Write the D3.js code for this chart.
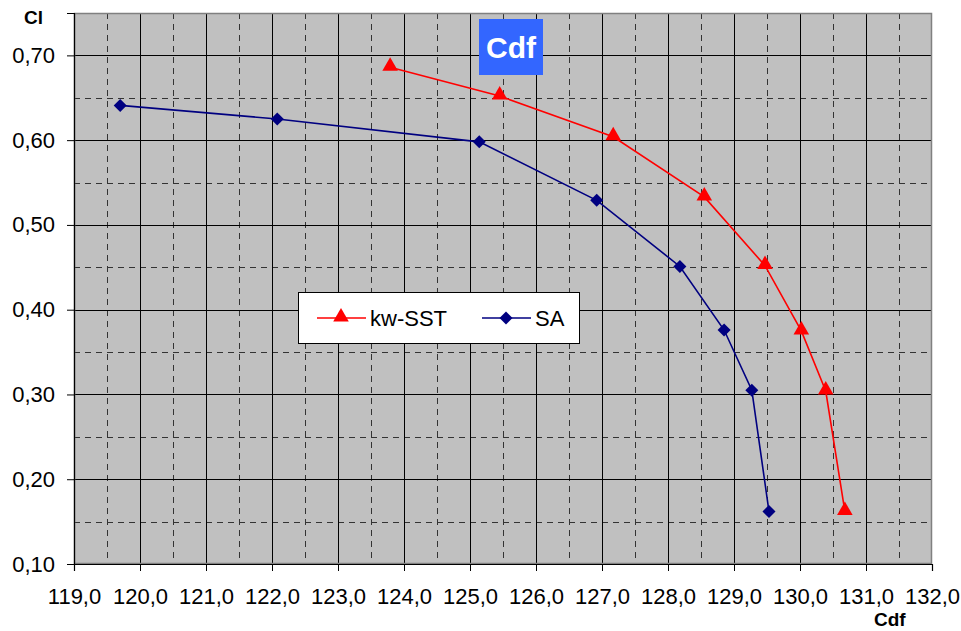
<!DOCTYPE html>
<html><head><meta charset="utf-8">
<script src="https://cdn.jsdelivr.net/npm/d3@7"></script>
<style>body{margin:0;background:#fff;}svg{display:block;font-family:"Liberation Sans",Arial,sans-serif;}</style>
</head><body>
<svg id="c" width="961" height="631"></svg>
<script>
const saX = [119.7, 122.08, 125.14, 126.92, 128.18, 128.85, 129.27, 129.53];
const saY = [0.641, 0.625, 0.598, 0.529, 0.451, 0.376, 0.305, 0.162];
const sstX = [123.79, 125.45, 127.17, 128.55, 129.47, 130.02, 130.39, 130.68];
const sstY = [0.686, 0.652, 0.604, 0.533, 0.452, 0.375, 0.304, 0.162];
const xTicks = [119,120,121,122,123,124,125,126,127,128,129,130,131,132];
const yTicks = [0.1,0.2,0.3,0.4,0.5,0.6,0.7];
const xMinor = [119.5,120.5,121.5,122.5,123.5,124.5,125.5,126.5,127.5,128.5,129.5,130.5,131.5];
const yMinor = [0.15,0.25,0.35,0.45,0.55,0.65];
const seriesNames = ["kw-SST","SA"];
const titleText = "Cdf";

const svg = d3.select("#c");
const L=74, R=932, T=13, B=564;
const x = d3.scaleLinear().domain([119,132]).range([L,R]);
const y = d3.scaleLinear().domain([0.10,0.75]).range([B,T]);
const fmt = v => d3.format(".1f")(v).replace(".",",");
const fmtY = v => d3.format(".2f")(v).replace(".",",");

svg.append("rect").attr("x",L).attr("y",T).attr("width",R-L).attr("height",B-T).attr("fill","#c0c0c0");
const g = svg.append("g");
g.selectAll(".vx").data(xMinor).join("line").attr("x1",d=>Math.round(x(d))+0.5).attr("x2",d=>Math.round(x(d))+0.5).attr("y1",T).attr("y2",B)
 .attr("stroke","#333").attr("stroke-width",1).attr("stroke-dasharray","6,5");
g.selectAll(".hy").data(yMinor).join("line").attr("y1",d=>Math.round(y(d))+0.5).attr("y2",d=>Math.round(y(d))+0.5).attr("x1",L).attr("x2",R)
 .attr("stroke","#333").attr("stroke-width",1).attr("stroke-dasharray","6,5");
g.selectAll(".mx").data(xTicks.slice(1,-1)).join("line").attr("x1",d=>Math.round(x(d))+0.5).attr("x2",d=>Math.round(x(d))+0.5).attr("y1",T).attr("y2",B)
 .attr("stroke","#000").attr("stroke-width",1);
g.selectAll(".my").data(yTicks.slice(1)).join("line").attr("y1",d=>Math.round(y(d))+0.5).attr("y2",d=>Math.round(y(d))+0.5).attr("x1",L).attr("x2",R)
 .attr("stroke","#000").attr("stroke-width",1);
svg.append("rect").attr("x",L+0.5).attr("y",T+0.5).attr("width",R-L-1).attr("height",B-T-1).attr("fill","none").attr("stroke","#808080").attr("stroke-width",1.5);

const xAxis = svg.append("g").attr("transform",`translate(0,${B})`)
  .call(d3.axisBottom(x).tickValues(xTicks).tickFormat(fmt).tickSizeOuter(0).tickSize(7).tickPadding(17));
const yAxis = svg.append("g").attr("transform",`translate(${L},0)`)
  .call(d3.axisLeft(y).tickValues(yTicks).tickFormat(fmtY).tickSizeOuter(0).tickSize(7).tickPadding(12));
[xAxis,yAxis].forEach(a=>{a.attr("font-size",22).attr("font-family","Liberation Sans, Arial, sans-serif");
  a.select(".domain").attr("stroke","#000").attr("stroke-width",1.2);
  a.selectAll(".tick line").attr("stroke","#000");
  a.selectAll("text").attr("fill","#000");});

const line = d3.line().x(d=>x(d[0])).y(d=>y(d[1]));
const sa = saX.map((v,i)=>[v,saY[i]]);
const sst = sstX.map((v,i)=>[v,sstY[i]]);
svg.append("path").datum(sst).attr("d",line).attr("fill","none").attr("stroke","#ff0000").attr("stroke-width",1.6);
svg.append("path").datum(sa).attr("d",line).attr("fill","none").attr("stroke","#000080").attr("stroke-width",1.6);
const tri = d3.symbol().type(d3.symbolTriangle).size(105);
const dia = d3.symbol().type(d3.symbolSquare).size(85);
svg.selectAll(".ts").data(sst).join("path").attr("d",tri).attr("transform",d=>`translate(${x(d[0])},${y(d[1])-1})`).attr("fill","#ff0000");
svg.selectAll(".ds").data(sa).join("path").attr("d",dia).attr("transform",d=>`translate(${x(d[0])},${y(d[1])}) rotate(45)`).attr("fill","#000080");

svg.append("rect").attr("x",479).attr("y",19).attr("width",64).attr("height",56).attr("fill","#3366ff");
svg.append("text").attr("x",511).attr("y",58).attr("text-anchor","middle").attr("font-size",30).attr("font-weight","bold").attr("fill","#fff").text(titleText);

svg.append("text").attr("x",24).attr("y",24).attr("font-size",19).attr("font-weight","bold").text("Cl");
svg.append("text").attr("x",874).attr("y",626).attr("font-size",19).attr("font-weight","bold").text("Cdf");

const lg = svg.append("g");
lg.append("rect").attr("x",298.5).attr("y",292.5).attr("width",281).attr("height",51).attr("fill","#fff").attr("stroke","#000").attr("stroke-width",1);
const ly = 318;
lg.append("line").attr("x1",317).attr("x2",366).attr("y1",ly).attr("y2",ly).attr("stroke","#ff0000").attr("stroke-width",1.6);
lg.append("path").attr("d",tri).attr("transform",`translate(341,${ly-1})`).attr("fill","#ff0000");
lg.append("text").attr("x",370).attr("y",ly+8).attr("font-size",22).text(seriesNames[0]);
lg.append("line").attr("x1",482).attr("x2",531).attr("y1",ly).attr("y2",ly).attr("stroke","#000080").attr("stroke-width",1.6);
lg.append("path").attr("d",dia).attr("transform",`translate(506,${ly}) rotate(45)`).attr("fill","#000080");
lg.append("text").attr("x",535).attr("y",ly+8).attr("font-size",22).text(seriesNames[1]);
</script>
</body></html>
